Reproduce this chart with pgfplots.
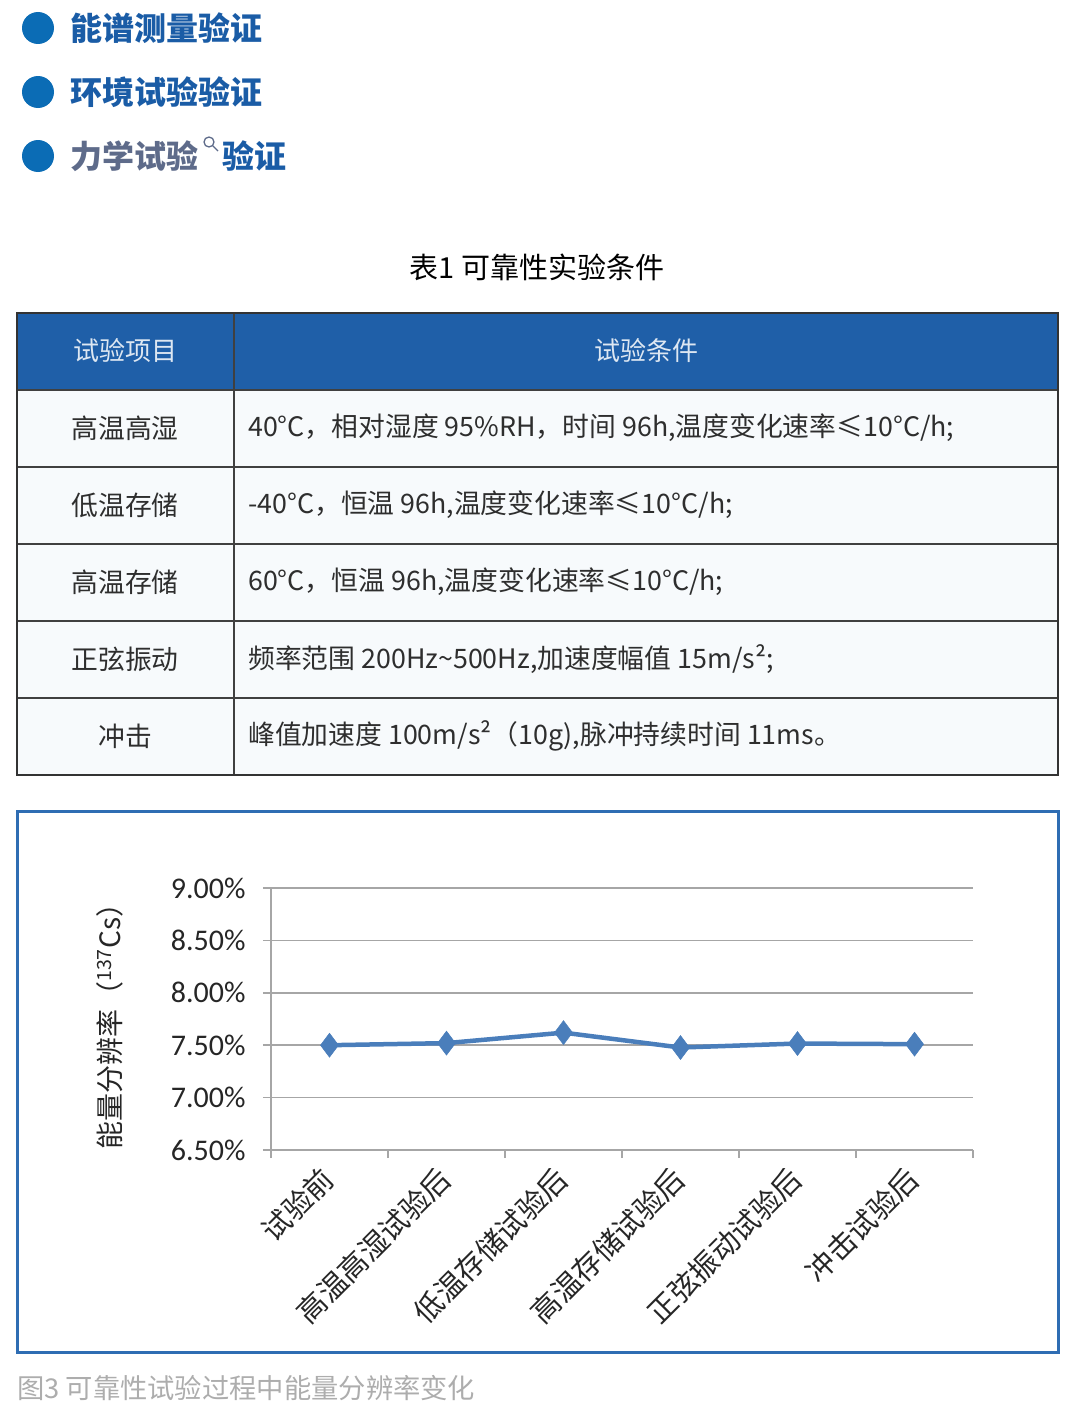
\documentclass[border=0pt]{standalone}
\usepackage{fontspec}
\usepackage{pgfplots}
\pgfplotsset{compat=1.18}
\setmainfont{Noto Sans CJK SC}
\newfontfamily\cali{Carlito}
\definecolor{bulletblue}{HTML}{0B6CB5}
\definecolor{headblue}{HTML}{1A5CA6}
\definecolor{graytitle}{HTML}{5E6B8A}
\definecolor{tablehead}{HTML}{1F5FA8}
\definecolor{rowfill}{HTML}{F7FAFC}
\definecolor{framecol}{HTML}{2F6DB3}
\definecolor{linecol}{HTML}{4A7EBB}
\definecolor{gridcol}{HTML}{A6A6A6}
\definecolor{bodytext}{HTML}{2E2E2E}
\newcommand{\fs}[1]{\fontsize{#1}{#1}\selectfont}

\begin{document}
\begin{tikzpicture}
\path[use as bounding box] (0,0) rectangle (1069pt,-1413pt);

% headings
\foreach \y in {28,92,156} \fill[bulletblue] (38pt,-\y pt) circle (16pt);
\node[anchor=west,inner sep=0pt,text=headblue,font=\fs{32}\bfseries] at (70pt,-28pt) {能谱测量验证};
\node[anchor=west,inner sep=0pt,text=headblue,font=\fs{32}\bfseries] at (70pt,-92pt) {环境试验验证};
\node[anchor=west,inner sep=0pt,text=graytitle,font=\fs{32}\bfseries] at (70pt,-156pt) {力学试验};
\draw[graytitle,line width=1.3pt] (209pt,-142pt) circle (5pt) (213pt,-146pt) -- (218pt,-151pt);
\node[anchor=west,inner sep=0pt,text=headblue,font=\fs{32}\bfseries] at (222pt,-156pt) {验证};

% table
\node[inner sep=0pt,font=\fs{29}] at (537pt,-267pt) {表1 可靠性实验条件};
\fill[rowfill] (17pt,-390pt) rectangle (1058pt,-775pt);
\fill[tablehead] (17pt,-313pt) rectangle (1058pt,-390pt);
\foreach \y in {390,467,544,621,698} \draw[black!75,line width=1.3pt] (17pt,-\y pt) -- (1058pt,-\y pt);
\draw[black!75,line width=1.3pt] (234pt,-313pt) -- (234pt,-775pt);
\draw[black!80,line width=1.6pt] (17pt,-313pt) rectangle (1058pt,-775pt);
\node[inner sep=0pt,font=\fs{26},text=white!85!tablehead] at (125pt,-351pt) {试验项目};
\node[inner sep=0pt,font=\fs{26},text=white!85!tablehead] at (646pt,-351pt) {试验条件};
\begin{scope}[every node/.style={inner sep=0pt,font=\fs{26.8},text=bodytext}]
\node at (125pt,-428pt) {高温高湿};
\node at (125pt,-505pt) {低温存储};
\node at (125pt,-582pt) {高温存储};
\node at (125pt,-659pt) {正弦振动};
\node at (125pt,-736pt) {冲击};
\node[anchor=west] at (248pt,-428pt) {40°C，相对湿度 95\%RH，时间 96h,温度变化速率≤10°C/h;};
\node[anchor=west] at (248pt,-505pt) {-40°C，恒温 96h,温度变化速率≤10°C/h;};
\node[anchor=west] at (248pt,-582pt) {60°C，恒温 96h,温度变化速率≤10°C/h;};
\node[anchor=west] at (248pt,-659pt) {频率范围 200Hz\textasciitilde 500Hz,加速度幅值 15m/s²;};
\node[anchor=west] at (248pt,-736pt) {峰值加速度 100m/s²（10g),脉冲持续时间 11ms。};
\end{scope}

% chart frame
\draw[framecol,line width=3pt] (17pt,-811pt) rectangle (1058pt,-1352pt);

\begin{axis}[
  at={(271pt,-1150pt)}, anchor=south west,
  scale only axis, width=702pt, height=262pt,
  xmin=0, xmax=6, ymin=6.5, ymax=9,
  axis x line*=bottom, axis y line*=left,
  axis line style={-, draw=gridcol, line width=1.5pt},
  xtick={0,1,...,6}, xticklabels={,,,,,,},
  ytick={6.5,7,...,9},
  tick align=outside, major tick length=8pt,
  tick style={draw=gridcol, line width=1.5pt},
  ymajorgrids, grid style={draw=gridcol, line width=1.5pt},
  /pgf/number format/assume math mode=true,
  yticklabel={\pgfmathprintnumber[fixed,fixed zerofill,precision=2]{\tick}\%},
  yticklabel style={font=\cali\fs{30}, text=black!85, xshift=-14pt},
  extra x ticks={0.5,1.5,2.5,3.5,4.5,5.5},
  extra x tick labels={试验前,高温高湿试验后,低温存储试验后,高温存储试验后,正弦振动试验后,冲击试验后},
  extra x tick style={major tick length=0pt, tick style={draw=none},
    xticklabel style={rotate=45, anchor=north east, font=\fs{29}, text=black!85, xshift=-14pt, yshift=1pt}},
  ylabel={能量分辨率（\textsuperscript{137}Cs）},
  ylabel style={at={(rel axis cs:-0.229,0.497)}, anchor=center, font=\fs{28}, text=black!85},
]
\addplot[color=linecol, line width=4.5pt, mark=diamond*, mark size=12pt,
  mark options={solid, line width=0.5pt, fill=linecol}]
  coordinates {(0.5,7.50) (1.5,7.52) (2.5,7.62) (3.5,7.478) (4.5,7.516) (5.5,7.51)};
\end{axis}

% caption
\node[anchor=west,inner sep=0pt,font=\fs{27.3},text=black!32] at (17pt,-1388pt) {图3 可靠性试验过程中能量分辨率变化};
\end{tikzpicture}
\end{document}
